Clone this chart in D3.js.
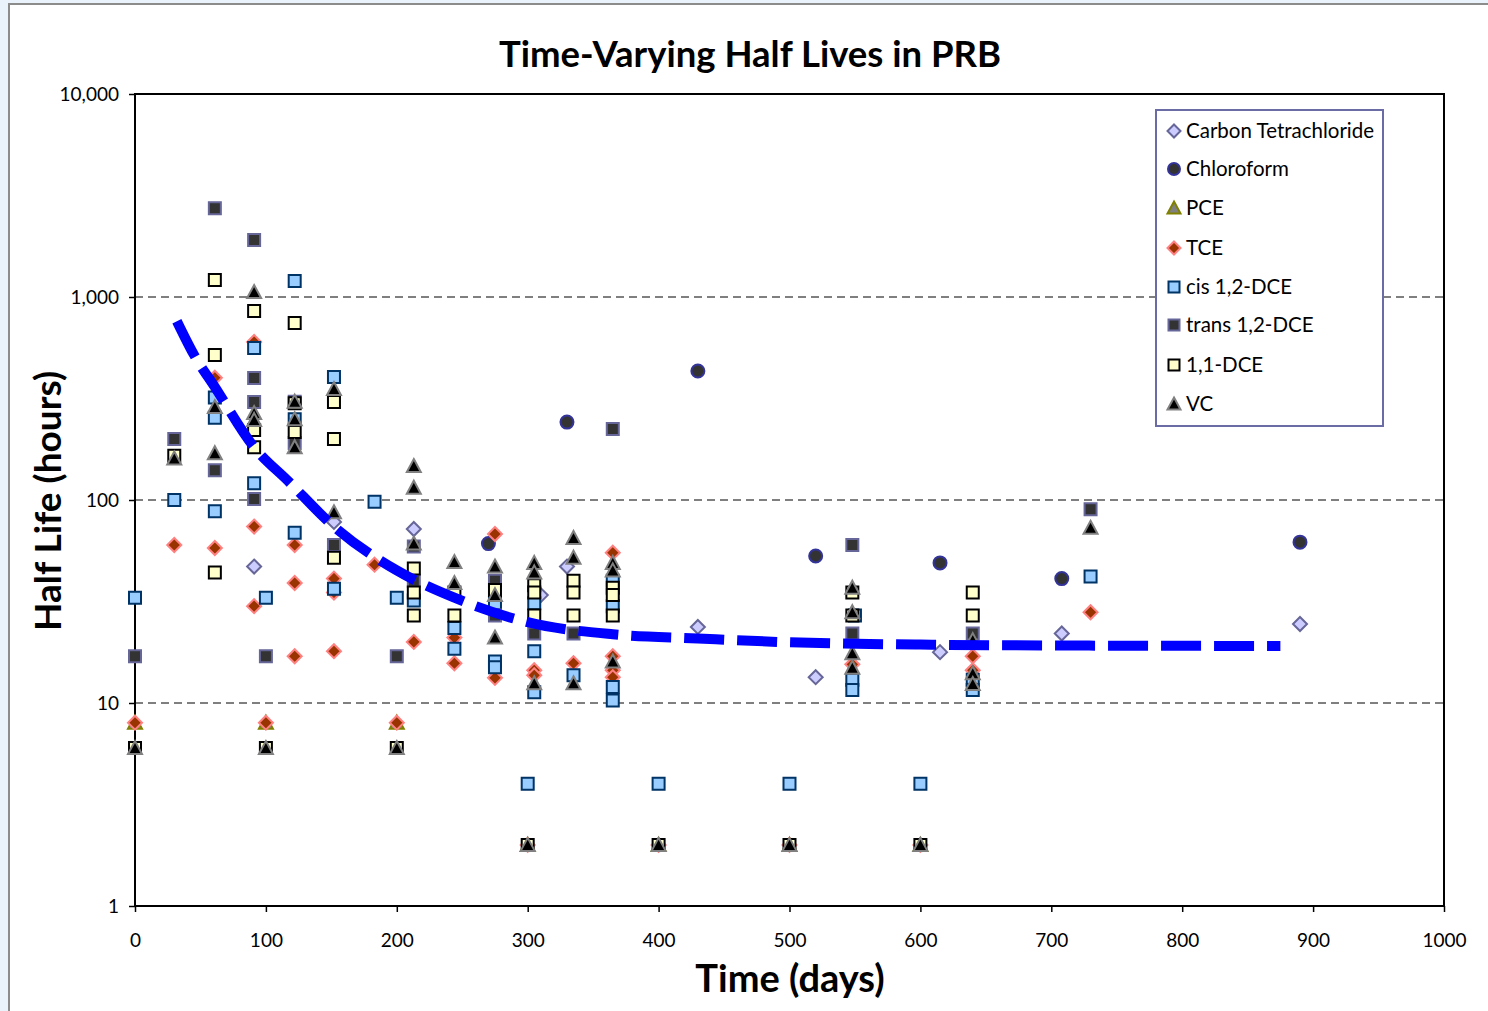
<!DOCTYPE html>
<html>
<head>
<meta charset="utf-8">
<script src="https://cdnjs.cloudflare.com/ajax/libs/d3/7.8.5/d3.min.js"></script>
<style>
body { margin: 0; background: #eaf2fc; }
svg { display: block; font-family: Lato, "Open Sans", sans-serif; }
</style>
</head>
<body>
<svg width="1488" height="1011"></svg>
<script>
// half life (hours) vs time (days)
var carbonTet = [[91,47],[152,78],[213,72],[310,34],[330,47],[430,23.7],[520,13.4],[615,17.8],[708,22],[890,24.5]];
var chloroform = [[270,61],[330,242],[430,432],[520,53],[615,49],[708,41],[890,62]];
var pce = [[0,8],[100,8],[200,8],[300,2],[400,2],[500,2],[600,2]];
var tce = [[0,8],[30,60],[61,400],[61,58],[91,600],[91,74],[91,30],[100,8],[122,60],[122,39],[122,17],
  [152,41],[152,35],[152,18],[183,48],[200,8],[213,20],[244,21],[244,15.7],[275,68],[275,13.3],[300,2],
  [305,14.5],[305,13.7],[335,15.7],[365,55],[365,17],[365,14.5],[365,13.4],[400,2],[500,2],[548,15.5],
  [600,2],[640,17],[640,14.5],[730,28]];
var cisDCE = [[0,33],[30,100],[61,320],[61,254],[61,88],[91,561],[91,121],[100,33],[122,1200],[122,250],[122,69],
  [152,404],[152,36.5],[183,98],[200,33],[213,32],[244,23.4],[244,18.5],[275,31],[275,16],[275,15],[300,4],
  [305,31],[305,18],[305,11.3],[335,13.7],[365,40],[365,30],[365,12],[365,10.3],[400,4],[500,4],
  [550,27],[548,13],[548,11.6],[600,4],[640,13],[640,11.6],[730,42]];
var transDCE = [[0,17],[30,200],[61,2740],[61,140],[91,1910],[91,399],[91,304],[91,101],[100,17],[122,305],[122,191],
  [152,60],[200,17],[213,59],[213,40],[275,40],[275,27],[305,22],[335,22],[365,224],[548,60],[548,22],[640,22],[730,90]];
var dce11 = [[0,6],[30,165],[61,1213],[61,518],[61,44],[91,853],[91,221],[91,182],[100,6],[122,745],[122,300],[122,216],
  [152,304],[152,200],[152,52],[200,6],[213,46],[213,35],[213,27],[244,35],[244,27],[275,36],[300,2],
  [305,38],[305,35],[305,27],[335,40],[335,35],[335,27],[365,37],[365,34],[365,27],[400,2],[500,2],
  [548,35],[548,27],[600,2],[640,35],[640,27]];
var vc = [[0,6],[30,160],[61,287],[61,170],[91,1058],[91,268],[91,248],[100,6],[122,305],[122,250],[122,182],
  [152,352],[152,87],[200,6],[213,147],[213,115],[213,61],[244,49.5],[244,39],[275,47],[275,34],[275,21],[300,2],
  [305,49],[305,44],[305,12.5],[335,65],[335,52],[335,12.5],[365,49],[365,45],[365,16],[400,2],[500,2],
  [548,37],[548,28],[548,17.6],[548,14.9],[600,2],[640,20.4],[640,14],[640,12.4],[730,73]];
// trend line
var trend = [[32,760],[45,520],[61,360],[91,182],[117,124],[152,74],[200,45],[244,33],[300,25],[365,21.8],
  [430,20.8],[500,19.9],[600,19.4],[700,19.2],[875,19.1]];

var xTicks = [0,100,200,300,400,500,600,700,800,900,1000];
var yTicks = [1,10,100,1000,10000];

var series = [
  {name: "Carbon Tetrachloride", data: carbonTet, shape: "diamond", fill: "#ccccff", stroke: "#666699"},
  {name: "Chloroform", data: chloroform, shape: "circle", fill: "#333333", stroke: "#333399"},
  {name: "PCE", data: pce, shape: "triangle", fill: "#808080", stroke: "#808000"},
  {name: "TCE", data: tce, shape: "diamond", fill: "#993300", stroke: "#ff8080"},
  {name: "cis 1,2-DCE", data: cisDCE, shape: "square", fill: "#99ccff", stroke: "#003366"},
  {name: "trans 1,2-DCE", data: transDCE, shape: "square", fill: "#333333", stroke: "#666699"},
  {name: "1,1-DCE", data: dce11, shape: "square", fill: "#ffffcc", stroke: "#000000"},
  {name: "VC", data: vc, shape: "triangle", fill: "#000000", stroke: "#808080"}
];

var svg = d3.select("svg");

// chart frame
svg.append("rect").attr("x", 9).attr("y", 4).attr("width", 1500).attr("height", 1020)
  .attr("fill", "#fff").attr("stroke", "#8c8c8c").attr("stroke-width", 2);

var x = d3.scaleLinear().domain([0, 1000]).range([135, 1444]);
var y = d3.scaleLog().domain([1, 10000]).range([906, 94]);

// gridlines
svg.selectAll(".grid").data([10, 100, 1000]).enter().append("line")
  .attr("x1", 135).attr("x2", 1444)
  .attr("y1", function(d) {return y(d);}).attr("y2", function(d) {return y(d);})
  .attr("stroke", "#000").attr("stroke-width", 1).attr("stroke-dasharray", "8,5");

var xAxis = svg.append("g").attr("transform", "translate(0,906)")
  .call(d3.axisBottom(x).tickValues(xTicks).tickSize(6).tickPadding(8).tickFormat(d3.format("d")));
var yAxis = svg.append("g").attr("transform", "translate(135,0)")
  .call(d3.axisLeft(y).tickValues(yTicks).tickSize(6).tickPadding(10).tickFormat(d3.format(",")));
[xAxis, yAxis].forEach(function(a) {
  a.select(".domain").remove();
  a.selectAll("line").attr("stroke", "#000").attr("stroke-width", 1.5);
  a.selectAll("text").attr("font-size", 19).attr("fill", "#000").attr("font-family", "Lato, sans-serif");
});
xAxis.selectAll("text").attr("dy", "1.4em");

// plot border
svg.append("rect").attr("x", 135).attr("y", 94).attr("width", 1309).attr("height", 812)
  .attr("fill", "none").attr("stroke", "#000").attr("stroke-width", 2);

function markerPath(shape, s) {
  var h = s / 2;
  if (shape == "diamond") return "M0," + (-h - 1) + "L" + (h + 1) + ",0L0," + (h + 1) + "L" + (-h - 1) + ",0Z";
  if (shape == "square") return "M" + (-h) + "," + (-h) + "h" + s + "v" + s + "h" + (-s) + "Z";
  if (shape == "triangle") return "M0," + (-h - 1) + "L" + (h + 1) + "," + (h) + "L" + (-h - 1) + "," + (h) + "Z";
  return d3.symbol().type(d3.symbolCircle).size(Math.PI * (h + 0.5) * (h + 0.5))();
}

series.forEach(function(s) {
  svg.append("g").selectAll("path").data(s.data).enter().append("path")
    .attr("d", markerPath(s.shape, 12))
    .attr("transform", function(d) {return "translate(" + x(d[0]) + "," + y(d[1]) + ")";})
    .attr("fill", s.fill).attr("stroke", s.stroke).attr("stroke-width", 2);
});

// trend line
var line = d3.line().x(function(d) {return x(d[0]);}).y(function(d) {return y(d[1]);}).curve(d3.curveMonotoneX);
svg.append("path").datum(trend).attr("d", line)
  .attr("fill", "none").attr("stroke", "#0000ff").attr("stroke-width", 10)
  .attr("stroke-dasharray", "40,13");

// legend
var lg = svg.append("g").attr("transform", "translate(1156,110)");
lg.append("rect").attr("width", 227).attr("height", 316).attr("fill", "#fff")
  .attr("stroke", "#6b6ba6").attr("stroke-width", 2);
var ys = [21, 59, 98, 138, 177, 215, 255, 294];
series.forEach(function(s, i) {
  lg.append("path").attr("d", markerPath(s.shape, 11))
    .attr("transform", "translate(18," + ys[i] + ")")
    .attr("fill", s.fill).attr("stroke", s.stroke).attr("stroke-width", 2);
  lg.append("text").attr("x", 30).attr("y", ys[i] + 7).attr("font-size", 20.5).text(s.name);
});

// titles
svg.append("text").attr("x", 750).attr("y", 67).attr("text-anchor", "middle")
  .attr("font-size", 36.5).attr("font-weight", "bold").text("Time-Varying Half Lives in PRB");
svg.append("text").attr("x", 790).attr("y", 992).attr("text-anchor", "middle")
  .attr("font-size", 38).attr("font-weight", "bold").text("Time (days)");
svg.append("text").attr("transform", "translate(61,501) rotate(-90)").attr("text-anchor", "middle")
  .attr("font-size", 37).attr("font-weight", "bold").text("Half Life (hours)");
</script>
</body>
</html>
